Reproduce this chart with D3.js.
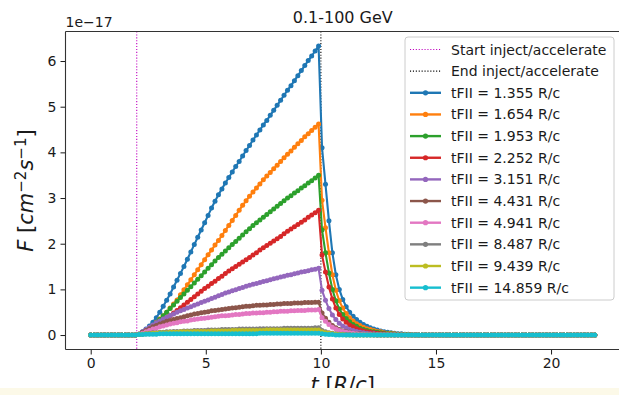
<!DOCTYPE html>
<html>
<head>
<meta charset="utf-8">
<script src="https://cdn.jsdelivr.net/npm/d3@7"></script>
<style>
  html, body { margin: 0; padding: 0; background: #fff; }
  svg { display: block; }
</style>
</head>
<body>
<svg id="chart" width="619" height="395"></svg>
<script>
// Light curves of flux F(t) in the 0.1-100 GeV band, in units of 1e-17 cm^-2 s^-1.
const times = [
  0,0.15,0.3,0.45,0.6,0.75,0.9,1.05,1.2,1.35,
  1.5,1.65,1.8,1.95,2.1,2.25,2.4,2.55,2.7,2.85,
  3,3.15,3.3,3.45,3.6,3.75,3.9,4.05,4.2,4.35,
  4.5,4.65,4.8,4.95,5.1,5.25,5.4,5.55,5.7,5.85,
  6,6.15,6.3,6.45,6.6,6.75,6.9,7.05,7.2,7.35,
  7.5,7.65,7.8,7.95,8.1,8.25,8.4,8.55,8.7,8.85,
  9,9.15,9.3,9.45,9.6,9.75,9.9,10.05,10.2,10.35,
  10.5,10.65,10.8,10.95,11.1,11.25,11.4,11.55,11.7,11.85,
  12,12.15,12.3,12.45,12.6,12.75,12.9,13.05,13.2,13.35,
  13.5,13.65,13.8,13.95,14.1,14.25,14.4,14.55,14.7,14.85,
  15,15.15,15.3,15.45,15.6,15.75,15.9,16.05,16.2,16.35,
  16.5,16.65,16.8,16.95,17.1,17.25,17.4,17.55,17.7,17.85,
  18,18.15,18.3,18.45,18.6,18.75,18.9,19.05,19.2,19.35,
  19.5,19.65,19.8,19.95,20.1,20.25,20.4,20.55,20.7,20.85,
  21,21.15,21.3,21.45,21.6,21.75,21.9
];

const fluxT1355 = [
  0,0,0,0,0,0,0,0,0,0,0,0,0,0,
  0.02,0.07,0.13,0.20,0.28,0.38,0.50,0.63,0.76,0.90,
  1.05,1.20,1.35,1.50,1.66,1.82,1.98,2.14,2.30,2.46,
  2.62,2.78,2.93,3.07,3.20,3.33,3.45,3.57,3.69,3.80,
  3.92,4.04,4.15,4.27,4.38,4.49,4.60,4.70,4.81,4.92,
  5.03,5.14,5.25,5.36,5.46,5.57,5.68,5.79,5.90,6.01,
  6.11,6.22,6.33,
  4.10,3.30,2.50,1.80,1.32,1.00,0.78,0.62,0.50,0.41,
  0.34,0.28,0.23,0.19,0.16,0.13,0.11,0.09,0.07,0.06,
  0.05,0.04,0.03,0.03,0.02,0.02,0.01,0.01,
  0,0,0,0,0,0,0,0,0,0,0,0,0,
  0,0,0,0,0,0,0,0,0,0,0,0,0,
  0,0,0,0,0,0,0,0,0,0,0,0,0,
  0,0,0,0,0,0,0,0,0,0,0,0,0
];

const fluxT1654 = [
  0,0,0,0,0,0,0,0,0,0,0,0,0,0,
  0.02,0.05,0.10,0.15,0.21,0.28,0.35,0.42,0.50,0.59,
  0.68,0.77,0.88,0.99,1.10,1.21,1.32,1.43,1.54,1.65,
  1.76,1.86,1.97,2.07,2.18,2.29,2.40,2.51,2.62,2.73,
  2.84,2.94,3.04,3.13,3.22,3.31,3.40,3.48,3.56,3.64,
  3.72,3.80,3.88,3.96,4.03,4.11,4.19,4.26,4.34,4.41,
  4.48,4.55,4.62,
  2.95,2.35,1.80,1.32,0.98,0.75,0.59,0.47,0.38,0.31,
  0.25,0.21,0.17,0.14,0.12,0.10,0.08,0.07,0.05,0.04,
  0.04,0.03,0.02,0.02,0.01,0.01,0.01,0,
  0,0,0,0,0,0,0,0,0,0,0,0,0,
  0,0,0,0,0,0,0,0,0,0,0,0,0,
  0,0,0,0,0,0,0,0,0,0,0,0,0,
  0,0,0,0,0,0,0,0,0,0,0,0,0
];

const fluxT1953 = [
  0,0,0,0,0,0,0,0,0,0,0,0,0,0,
  0.02,0.05,0.09,0.14,0.20,0.27,0.34,0.42,0.50,0.58,
  0.66,0.74,0.82,0.90,0.98,1.06,1.14,1.22,1.30,1.38,
  1.46,1.54,1.62,1.70,1.77,1.84,1.91,1.98,2.05,2.12,
  2.19,2.26,2.33,2.40,2.46,2.52,2.58,2.64,2.70,2.76,
  2.82,2.88,2.94,3.00,3.05,3.11,3.16,3.22,3.27,3.33,
  3.38,3.44,3.50,
  2.30,1.80,1.36,1.00,0.75,0.57,0.45,0.36,0.29,0.23,
  0.19,0.15,0.12,0.10,0.08,0.07,0.06,0.05,0.04,0.03,
  0.03,0.02,0.02,0.01,0.01,0.01,0,0,
  0,0,0,0,0,0,0,0,0,0,0,0,0,
  0,0,0,0,0,0,0,0,0,0,0,0,0,
  0,0,0,0,0,0,0,0,0,0,0,0,0,
  0,0,0,0,0,0,0,0,0,0,0,0,0
];

const fluxT2252 = [
  0,0,0,0,0,0,0,0,0,0,0,0,0,0,
  0.02,0.04,0.07,0.11,0.15,0.20,0.25,0.30,0.36,0.42,
  0.48,0.54,0.60,0.66,0.72,0.78,0.84,0.90,0.96,1.02,
  1.07,1.13,1.18,1.24,1.29,1.35,1.40,1.45,1.50,1.55,
  1.60,1.65,1.70,1.75,1.80,1.86,1.91,1.96,2.01,2.06,
  2.11,2.16,2.22,2.27,2.32,2.37,2.42,2.47,2.52,2.58,
  2.63,2.68,2.73,
  1.75,1.38,1.05,0.79,0.59,0.45,0.35,0.28,0.22,0.18,
  0.14,0.11,0.09,0.07,0.06,0.05,0.04,0.03,0.03,0.02,
  0.02,0.01,0.01,0.01,0,0,0,0,
  0,0,0,0,0,0,0,0,0,0,0,0,0,
  0,0,0,0,0,0,0,0,0,0,0,0,0,
  0,0,0,0,0,0,0,0,0,0,0,0,0,
  0,0,0,0,0,0,0,0,0,0,0,0,0
];

const fluxT3151 = [
  0,0,0,0,0,0,0,0,0,0,0,0,0,0,
  0.02,0.07,0.12,0.17,0.22,0.27,0.31,0.35,0.39,0.43,
  0.46,0.50,0.53,0.56,0.59,0.62,0.65,0.68,0.71,0.74,
  0.77,0.80,0.83,0.86,0.89,0.92,0.94,0.97,0.99,1.02,
  1.04,1.07,1.09,1.11,1.13,1.15,1.17,1.19,1.21,1.23,
  1.25,1.27,1.29,1.31,1.32,1.34,1.36,1.38,1.39,1.41,
  1.43,1.44,1.46,
  0.98,0.76,0.58,0.44,0.34,0.26,0.20,0.16,0.12,0.10,
  0.08,0.06,0.05,0.04,0.03,0.03,0.02,0.02,0.01,0.01,
  0.01,0,0,0,0,0,0,0,
  0,0,0,0,0,0,0,0,0,0,0,0,0,
  0,0,0,0,0,0,0,0,0,0,0,0,0,
  0,0,0,0,0,0,0,0,0,0,0,0,0,
  0,0,0,0,0,0,0,0,0,0,0,0,0
];

const fluxT4431 = [
  0,0,0,0,0,0,0,0,0,0,0,0,0,0,
  0.02,0.06,0.10,0.14,0.18,0.21,0.24,0.27,0.30,0.32,
  0.34,0.36,0.38,0.40,0.42,0.44,0.46,0.47,0.49,0.50,
  0.51,0.53,0.54,0.55,0.56,0.57,0.58,0.59,0.60,0.61,
  0.62,0.63,0.63,0.64,0.65,0.65,0.66,0.66,0.67,0.67,
  0.68,0.68,0.69,0.69,0.69,0.70,0.70,0.70,0.71,0.71,
  0.71,0.72,0.72,
  0.48,0.37,0.28,0.21,0.16,0.12,0.09,0.07,0.06,0.04,
  0.03,0.03,0.02,0.02,0.01,0.01,0,0,0,0,
  0,0,0,0,0,0,0,0,
  0,0,0,0,0,0,0,0,0,0,0,0,0,
  0,0,0,0,0,0,0,0,0,0,0,0,0,
  0,0,0,0,0,0,0,0,0,0,0,0,0,
  0,0,0,0,0,0,0,0,0,0,0,0,0
];

const fluxT4941 = [
  0,0,0,0,0,0,0,0,0,0,0,0,0,0,
  0.01,0.04,0.07,0.10,0.13,0.15,0.18,0.20,0.22,0.24,
  0.26,0.27,0.29,0.30,0.31,0.33,0.34,0.35,0.36,0.37,
  0.38,0.39,0.40,0.41,0.42,0.42,0.43,0.44,0.45,0.45,
  0.46,0.47,0.47,0.48,0.48,0.49,0.49,0.50,0.50,0.51,
  0.51,0.52,0.52,0.52,0.53,0.53,0.54,0.54,0.54,0.55,
  0.55,0.55,0.56,
  0.38,0.30,0.23,0.17,0.13,0.10,0.08,0.06,0.05,0.04,
  0.03,0.02,0.02,0.01,0.01,0,0,0,0,0,
  0,0,0,0,0,0,0,0,
  0,0,0,0,0,0,0,0,0,0,0,0,0,
  0,0,0,0,0,0,0,0,0,0,0,0,0,
  0,0,0,0,0,0,0,0,0,0,0,0,0,
  0,0,0,0,0,0,0,0,0,0,0,0,0
];

const fluxT8487 = [
  0,0,0,0,0,0,0,0,0,0,0,0,0,0,
  0.01,0.02,0.03,0.04,0.05,0.05,0.06,0.06,0.07,0.07,
  0.08,0.08,0.08,0.09,0.09,0.09,0.10,0.10,0.10,0.10,
  0.11,0.11,0.11,0.11,0.12,0.12,0.12,0.12,0.12,0.13,
  0.13,0.13,0.13,0.13,0.13,0.14,0.14,0.14,0.14,0.14,
  0.14,0.14,0.15,0.15,0.15,0.15,0.15,0.15,0.15,0.15,
  0.15,0.16,0.16,
  0.10,0.07,0.05,0.04,0.03,0.02,0.02,0.01,0.01,0,
  0,0,0,0,0,0,0,0,0,0,
  0,0,0,0,0,0,0,0,
  0,0,0,0,0,0,0,0,0,0,0,0,0,
  0,0,0,0,0,0,0,0,0,0,0,0,0,
  0,0,0,0,0,0,0,0,0,0,0,0,0,
  0,0,0,0,0,0,0,0,0,0,0,0,0
];

const fluxT9439 = [
  0,0,0,0,0,0,0,0,0,0,0,0,0,0,
  0.01,0.02,0.03,0.03,0.04,0.04,0.05,0.05,0.05,0.06,
  0.06,0.06,0.07,0.07,0.07,0.07,0.08,0.08,0.08,0.08,
  0.08,0.09,0.09,0.09,0.09,0.09,0.09,0.10,0.10,0.10,
  0.10,0.10,0.10,0.10,0.10,0.10,0.10,0.11,0.11,0.11,
  0.11,0.11,0.11,0.11,0.11,0.11,0.11,0.11,0.11,0.11,
  0.11,0.11,0.11,
  0.07,0.05,0.04,0.03,0.02,0.01,0.01,0,0,0,
  0,0,0,0,0,0,0,0,0,0,
  0,0,0,0,0,0,0,0,
  0,0,0,0,0,0,0,0,0,0,0,0,0,
  0,0,0,0,0,0,0,0,0,0,0,0,0,
  0,0,0,0,0,0,0,0,0,0,0,0,0,
  0,0,0,0,0,0,0,0,0,0,0,0,0
];

const fluxT14859 = [
  0,0,0,0,0,0,0,0,0,0,0,0,0,0,
  0.01,0.01,0.02,0.02,0.02,0.02,0.03,0.03,0.03,0.03,
  0.03,0.03,0.03,0.03,0.03,0.03,0.03,0.03,0.03,0.03,
  0.03,0.03,0.03,0.03,0.03,0.03,0.03,0.03,0.03,0.03,
  0.03,0.03,0.03,0.03,0.03,0.04,0.04,0.04,0.04,0.04,
  0.04,0.04,0.04,0.04,0.04,0.04,0.04,0.04,0.04,0.04,
  0.04,0.04,0.04,
  0.03,0.02,0.01,0.01,0,0,0,0,0,0,
  0,0,0,0,0,0,0,0,0,0,
  0,0,0,0,0,0,0,0,
  0,0,0,0,0,0,0,0,0,0,0,0,0,
  0,0,0,0,0,0,0,0,0,0,0,0,0,
  0,0,0,0,0,0,0,0,0,0,0,0,0,
  0,0,0,0,0,0,0,0,0,0,0,0,0
];

const seriesLabels = [
  "tFII = 1.355 R/c", "tFII = 1.654 R/c", "tFII = 1.953 R/c", "tFII = 2.252 R/c",
  "tFII = 3.151 R/c", "tFII = 4.431 R/c", "tFII = 4.941 R/c", "tFII = 8.487 R/c",
  "tFII = 9.439 R/c", "tFII = 14.859 R/c"
];
const seriesValues = [
  fluxT1355, fluxT1654, fluxT1953, fluxT2252, fluxT3151,
  fluxT4431, fluxT4941, fluxT8487, fluxT9439, fluxT14859
];
const injectStart = 2;   // R/c
const injectEnd = 10;    // R/c
const xTicks = [0, 5, 10, 15, 20];
const yTicks = [0, 1, 2, 3, 4, 5, 6];
const title = "0.1-100 GeV";

seriesValues.forEach((s, i) => {
  if (s.length !== times.length) throw new Error("series " + i + " has " + s.length + " points");
});

// ---- styling ----
const palette = ["#1f77b4", "#ff7f0e", "#2ca02c", "#d62728", "#9467bd",
                 "#8c564b", "#e377c2", "#7f7f7f", "#bcbd22", "#17becf"];
const FONT = "'DejaVu Sans', 'Liberation Sans', sans-serif";
const INK = "#1a1a1a";

const svg = d3.select("#chart");
const box = { left: 65.5, right: 620, top: 31.5, bottom: 349.5 };

const x = d3.scaleLinear().domain([-1.095, 22.995]).range([box.left, box.right]);
const y = d3.scaleLinear().domain([-0.3165, 6.6465]).range([box.bottom, box.top]);

svg.append("rect").attr("width", 619).attr("height", 395).attr("fill", "#fff");

svg.append("defs").append("clipPath").attr("id", "plotclip")
  .append("rect")
  .attr("x", box.left).attr("y", box.top)
  .attr("width", box.right - box.left).attr("height", box.bottom - box.top);

const plot = svg.append("g").attr("clip-path", "url(#plotclip)");

// injection window markers
const markers = [
  { t: injectStart, color: "#bf00bf", label: "Start inject/accelerate" },
  { t: injectEnd, color: "#000000", label: "End inject/accelerate" }
];
markers.forEach(m => {
  plot.append("line")
    .attr("x1", x(m.t)).attr("x2", x(m.t))
    .attr("y1", box.top).attr("y2", box.bottom)
    .attr("stroke", m.color).attr("stroke-width", 1.1)
    .attr("stroke-dasharray", "1.1,1.8");
});

// light curves
const line = d3.line().x((d, i) => x(times[i])).y(d => y(d));
seriesValues.forEach((vals, k) => {
  const g = plot.append("g");
  g.append("path").datum(vals)
    .attr("d", line)
    .attr("fill", "none")
    .attr("stroke", palette[k])
    .attr("stroke-width", 2.1)
    .attr("stroke-linejoin", "round");
  g.selectAll("circle").data(vals).join("circle")
    .attr("cx", (d, i) => x(times[i]))
    .attr("cy", d => y(d))
    .attr("r", 2.5)
    .attr("fill", palette[k]);
});

// axes
const xAxis = svg.append("g")
  .attr("transform", `translate(0,${box.bottom})`)
  .call(d3.axisBottom(x).tickValues(xTicks).tickSize(5).tickPadding(4).tickFormat(d3.format("d")));
const yAxis = svg.append("g")
  .attr("transform", `translate(${box.left},0)`)
  .call(d3.axisLeft(y).tickValues(yTicks).tickSize(5).tickPadding(4).tickFormat(d3.format("d")));
[xAxis, yAxis].forEach(a => {
  a.select(".domain").remove();
  a.selectAll(".tick line").attr("stroke", INK).attr("stroke-width", 1);
  a.selectAll(".tick text").attr("fill", INK).style("font-family", FONT).style("font-size", "14px");
});

// spines
const spine = svg.append("g").attr("stroke", "#333").attr("stroke-width", 1.1).attr("fill", "none");
spine.append("line").attr("x1", box.left).attr("x2", box.left).attr("y1", box.top).attr("y2", box.bottom);
spine.append("line").attr("x1", box.left).attr("x2", box.right).attr("y1", box.top).attr("y2", box.top);
spine.append("line").attr("x1", box.left).attr("x2", box.right).attr("y1", box.bottom).attr("y2", box.bottom);
spine.append("line").attr("x1", box.right).attr("x2", box.right).attr("y1", box.top).attr("y2", box.bottom);

// scale factor label
svg.append("text")
  .attr("x", box.left).attr("y", 27)
  .attr("fill", INK).style("font-family", FONT).style("font-size", "14px")
  .text("1e\u221217");

// title
svg.append("text")
  .attr("x", (box.left + box.right) / 2).attr("y", 23)
  .attr("text-anchor", "middle")
  .attr("fill", INK).style("font-family", FONT).style("font-size", "16px")
  .text(title);

// axis labels (math style: italic symbols, upright brackets and digits)
function mathLabel(sel, parts) {
  parts.forEach(p => {
    const ts = sel.append("tspan").text(p.t);
    if (p.i) ts.style("font-style", "italic");
    if (p.sup) ts.attr("baseline-shift", "45%").style("font-size", "15px");
  });
}
const xl = svg.append("text")
  .attr("x", (box.left + box.right) / 2).attr("y", 392)
  .attr("text-anchor", "middle").attr("fill", INK)
  .style("font-family", FONT).style("font-size", "21px");
mathLabel(xl, [{ t: "t", i: 1 }, { t: " [" }, { t: "R", i: 1 }, { t: "/" }, { t: "c", i: 1 }, { t: "]" }]);

const yl = svg.append("text")
  .attr("transform", `translate(33,${(box.top + box.bottom) / 2}) rotate(-90)`)
  .attr("text-anchor", "middle").attr("fill", INK)
  .style("font-family", FONT).style("font-size", "21px");
mathLabel(yl, [{ t: "F", i: 1 }, { t: " [" }, { t: "cm", i: 1 }, { t: "\u22122", sup: 1 },
               { t: "s", i: 1 }, { t: "\u22121", sup: 1 }, { t: "]" }]);

// legend
const legend = svg.append("g");
legend.append("rect")
  .attr("x", 405).attr("y", 37).attr("width", 209).attr("height", 263)
  .attr("rx", 3).attr("fill", "#fff").attr("fill-opacity", 0.8)
  .attr("stroke", "#cccccc").attr("stroke-width", 1);
const rowY = i => 49.5 + i * 21.65;
markers.forEach((m, i) => {
  legend.append("line")
    .attr("x1", 410).attr("x2", 441).attr("y1", rowY(i)).attr("y2", rowY(i))
    .attr("stroke", m.color).attr("stroke-width", 1.1).attr("stroke-dasharray", "1.1,1.8");
  legend.append("text").attr("x", 451).attr("y", rowY(i) + 5)
    .attr("fill", INK).style("font-family", FONT).style("font-size", "14px").text(m.label);
});
seriesLabels.forEach((lab, k) => {
  const yy = rowY(k + 2);
  legend.append("line")
    .attr("x1", 410).attr("x2", 441).attr("y1", yy).attr("y2", yy)
    .attr("stroke", palette[k]).attr("stroke-width", 2.4);
  legend.append("circle").attr("cx", 425.5).attr("cy", yy).attr("r", 2.6).attr("fill", palette[k]);
  legend.append("text").attr("x", 451).attr("y", yy + 5)
    .attr("fill", INK).style("font-family", FONT).style("font-size", "14px").text(lab);
});

// pale strip along the bottom edge of the page
svg.append("rect").attr("x", 0).attr("y", 388).attr("width", 619).attr("height", 7).attr("fill", "#fcf9e8");
</script>
</body>
</html>
